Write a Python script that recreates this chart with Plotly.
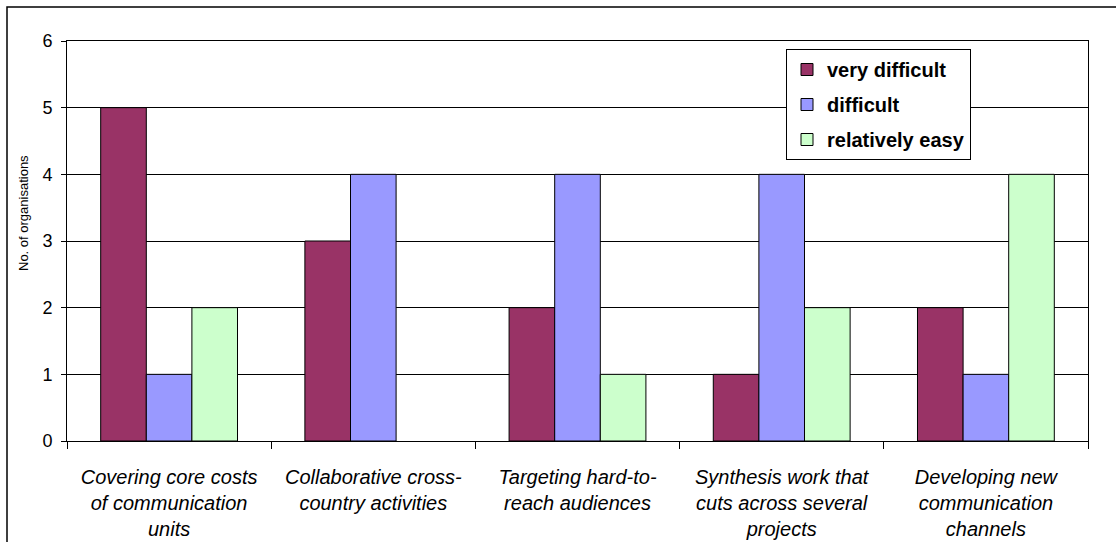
import plotly.graph_objects as go

categories = [
    "Covering core costs<br>of communication<br>units",
    "Collaborative cross-<br>country activities",
    "Targeting hard-to-<br>reach audiences",
    "Synthesis work that<br>cuts across several<br>projects",
    "Developing new<br>communication<br>channels",
]
series_names = ["very difficult", "difficult", "relatively easy"]
very_difficult = [5, 3, 2, 1, 2]
difficult = [1, 4, 4, 4, 1]
relatively_easy = [2, 0, 1, 2, 4]
colors = ["#993366", "#9999FF", "#CCFFCC"]
y_ticks = [0, 1, 2, 3, 4, 5, 6]

FONT = "Liberation Sans, Arial, sans-serif"

fig = go.Figure()
for name, vals, col in zip(series_names, [very_difficult, difficult, relatively_easy], colors):
    fig.add_trace(go.Bar(
        x=categories, y=vals, name=name, legendgroup=name,
        marker=dict(color=col,
                    line=dict(color="black", width=[1 if v > 0 else 0 for v in vals])),
    ))

W, H = 1116, 542
L, R, T, B = 67, 28, 41, 101
pw, ph = W - L - R, H - T - B

fig.update_layout(
    width=W, height=H,
    margin=dict(l=L, r=R, t=T, b=B, pad=0, autoexpand=False),
    paper_bgcolor="white", plot_bgcolor="white",
    barmode="group", bargap=0.33, bargroupgap=0,
    font=dict(family=FONT, color="black"),
    showlegend=True,
    legend=dict(
        x=(786 - L) / pw, y=(441 - 49) / ph, xanchor="left", yanchor="top",
        bgcolor="white", bordercolor="black", borderwidth=1,
        font=dict(family=FONT, size=20, color="black", weight="bold"),
        traceorder="grouped", tracegroupgap=6, itemwidth=30,
    ),
    xaxis=dict(
        showline=True, linecolor="black", linewidth=1, mirror=True,
        ticks="outside", ticklen=7, tickcolor="black",
        tickson="boundaries", automargin=False,
        tickfont=dict(family=FONT, size=20, style="italic", color="black"),
        ticklabelstandoff=18,
        showgrid=False,
    ),
    yaxis=dict(
        range=[0, 6], tickvals=y_ticks, ticktext=[str(v) for v in y_ticks],
        showline=True, linecolor="black", linewidth=1, mirror=True,
        ticks="outside", ticklen=5, tickcolor="black",
        ticklabelstandoff=5, automargin=False,
        showgrid=True, gridcolor="black", gridwidth=1,
        tickfont=dict(family=FONT, size=18, color="black"),
        zeroline=False,
    ),
    annotations=[dict(
        text="No. of organisations", textangle=-90,
        xref="paper", yref="paper",
        x=(23 - L) / pw, y=(441 - 213) / ph, xanchor="center", yanchor="middle",
        showarrow=False, font=dict(family=FONT, size=13, color="black"),
    )],
    shapes=[dict(
        type="rect", xref="paper", yref="paper",
        x0=(7 - L) / pw, x1=(1140 - L) / pw,
        y0=(441 - 560) / ph, y1=(441 - 7) / ph,
        line=dict(color="black", width=1.5), fillcolor="rgba(0,0,0,0)",
        layer="below",
    )],
)

fig.write_html("out.html")
